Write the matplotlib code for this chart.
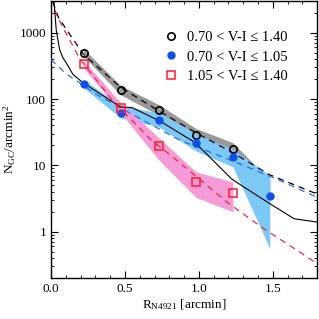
import matplotlib.pyplot as plt
import numpy as np

plt.rcParams['font.family'] = ['Liberation Serif', 'DejaVu Serif']
plt.rcParams['mathtext.fontset'] = 'custom'
plt.rcParams['mathtext.rm'] = 'Liberation Serif'
plt.rcParams['mathtext.it'] = 'Liberation Serif:italic'

# radial bins [arcmin]
r_bin = [0.22, 0.47, 0.73, 0.98, 1.23]
r_band = [0.22, 0.47, 0.73, 0.98, 1.23, 1.48]

# all GCs 0.70 < V-I <= 1.40
all_n = [500, 136, 68, 28.5, 17.5]
all_lo = [440, 116, 57, 23, 13, 2.5]
all_hi = [570, 160, 82, 36, 22, 6.0]

# blue GCs
blue_r = [0.22, 0.47, 0.73, 0.98, 1.23, 1.48]
blue_n = [170, 62, 48, 22, 13.5, 3.4]
blue_lo = [148, 52, 38, 16.5, 9.5, 0.56]
blue_hi = [198, 79, 62, 30, 17.6, 7.0]

# red GCs
red_n = [335, 73, 19.8, 5.6, 3.8]
red_lo = [295, 62, 12, 3.3, 2.0]
red_hi = [380, 88, 26, 8.0, 5.6]

# fitted profiles
fit_all_r = [0.012, 0.05, 0.1, 0.22, 0.47, 0.73, 0.98, 1.23, 1.48, 1.8]
fit_all_n = [2900, 1700, 1150, 470, 150, 66, 31, 15.5, 7.2, 3.7]
fit_blue_r = [0.0, 0.035, 0.07, 0.1, 0.16, 0.3, 0.53, 0.87, 1.28, 1.55, 1.8]
fit_blue_n = [394, 330, 280, 240, 197, 120, 62, 24, 10.5, 5.9, 3.3]
fit_red_r = [0.024, 0.04, 0.08, 0.14, 0.19, 0.22, 0.42, 0.67, 0.83, 1.055, 1.19, 1.28, 1.44, 1.68, 1.8]
fit_red_n = [2200, 1800, 1200, 680, 420, 340, 93, 25, 13, 5.0, 2.8, 2.0, 1.11, 0.5, 0.33]

# solid curve
sol_r = [0.02, 0.035, 0.058, 0.08, 0.11, 0.148, 0.216, 0.47, 0.55, 0.74, 0.976, 1.22, 1.27, 1.486, 1.645, 1.8]
sol_n = [3000, 1100, 556, 420, 330, 235, 176, 76, 74, 46, 22, 6.3, 5.3, 2.6, 1.57, 1.4]

labels = ['0.70 < V-I \u2264 1.40', '0.70 < V-I \u2264 1.05', '1.05 < V-I \u2264 1.40']

fig = plt.figure(figsize=(3.19, 3.19), dpi=100)
ax = fig.add_axes([0.16, 0.128, 0.834, 0.869])

ax.fill_between(r_band, all_lo, all_hi, color='#999999', lw=0, zorder=1)
ax.fill_between(blue_r, blue_lo, blue_hi, color='#7cc8f6', lw=0, zorder=2)
ax.fill_between(r_bin, red_lo, red_hi, color='#f59bd8', lw=0, zorder=3)

ax.plot(fit_all_r, fit_all_n, color='k', ls=(0, (5, 4)), lw=0.9, zorder=4)
ax.plot(fit_blue_r, fit_blue_n, color='#2a6ee8', ls=(0, (5, 4)), lw=0.9, zorder=4)
ax.plot(fit_red_r, fit_red_n, color='#f0283a', ls=(0, (5, 4)), lw=0.9, zorder=4)
ax.plot(sol_r, sol_n, color='k', lw=0.8, zorder=5)

ax.plot(r_bin, all_n, 'o', mfc='none', mec='k', mew=1.2, ms=5.3, zorder=6, label=labels[0])
ax.plot(blue_r, blue_n, 'o', color='#1050e8', ms=5, zorder=6, label=labels[1])
ax.plot(r_bin, red_n, 's', mfc='none', mec='#ff1a2e', mew=1.1, ms=5.3, zorder=6, label=labels[2])

ax.set_yscale('log')
ax.set_xlim(0, 1.8)
ax.set_ylim(0.2, 3000)
ax.set_xticks([0.0, 0.5, 1.0, 1.5])
ax.set_xticklabels(['0.0', '0.5', '1.0', '1.5'])
ax.set_xticks(np.arange(0, 1.81, 0.1), minor=True)
ax.set_yticks([1, 10, 100, 1000])
ax.set_yticklabels(['1', '10', '100', '1000'])
ax.tick_params(which='both', direction='in', top=True, right=True, labelsize=9.5)
ax.tick_params(which='major', length=5, width=0.8)
ax.tick_params(which='minor', length=2.5, width=0.6)
for s in ax.spines.values():
    s.set_linewidth(1.0)

ax.set_xlabel(r'R$_{\mathrm{N4921}}$ [arcmin]', fontsize=9.5, labelpad=2)
ax.set_ylabel(r'N$_{\mathrm{GC}}$/arcmin$^{2}$', fontsize=9.5, labelpad=1)

ax.legend(loc='upper left', bbox_to_anchor=(0.395, 0.93), frameon=False, fontsize=10.5,
          handlelength=0.6, handletextpad=0.85, labelspacing=0.45, borderpad=0.2)

fig.savefig('out.png', dpi=100)
